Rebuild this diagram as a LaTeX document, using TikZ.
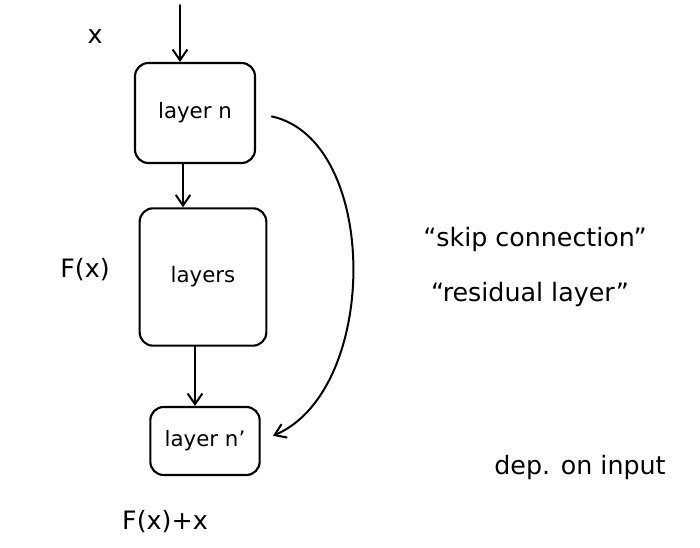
\documentclass[tikz,border=0pt]{standalone}
\usepackage{fontspec}
\setmainfont{DejaVu Sans}
\usetikzlibrary{arrows.meta}
\begin{document}
\begin{tikzpicture}[x=0.75pt,y=-0.75pt,
  box/.style={draw,line width=1.6pt,rounded corners=10pt,inner sep=0pt,font=\fontsize{16}{19}\selectfont},
  lbl/.style={font=\fontsize{19}{22}\selectfont},
  arr/.style={-{Straight Barb[length=8pt,width=11pt]},line width=1.5pt,line cap=round}]
\useasboundingbox (0,0) rectangle (700,547);
\node[box,minimum width=90pt,minimum height=75pt] (b1) at (195,113) {layer n};
\node[box,minimum width=95pt,minimum height=103pt] (b2) at (203,277) {layers};
\node[box,minimum width=82pt,minimum height=51pt] (b3) at (205,441) {layer n'};
\coordinate (in) at (180,5);
\node[lbl] (x) at (95,37) {x};
\node[lbl] (fx) at (85,270) {F(x)};
\node[lbl] (fxx) at (165,522) {F(x)+x};
\node[lbl] (skip) at (535,240) {“skip connection”};
\node[lbl] (res) at (530,295) {“residual layer”};
\node[lbl] (dep) at (580,468) {dep. on input};
\draw[arr] (in) -- (b1.north -| in);
\draw[arr] (b1.south -| 183,0) -- (b2.north -| 183,0);
\draw[arr] (b2.south -| 195,0) -- (b3.north -| 195,0);
\draw[arr,shorten <=12pt,shorten >=10pt] (b1.east) .. controls (380,140) and (380,390) .. (b3.east);
\end{tikzpicture}
\end{document}
